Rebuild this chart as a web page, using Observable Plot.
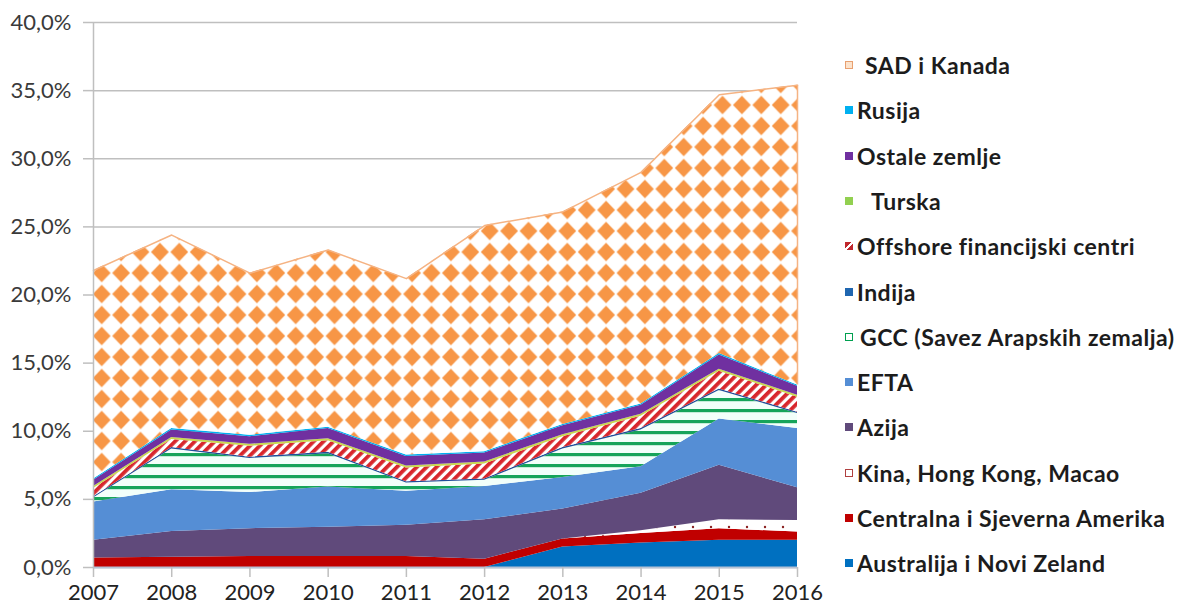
<!DOCTYPE html>
<html><head><meta charset="utf-8">
<script src="https://cdn.jsdelivr.net/npm/d3@7"></script>
<script src="https://cdn.jsdelivr.net/npm/@observablehq/plot@0.6"></script>
<style>
html,body{margin:0;padding:0;background:#fff;overflow:hidden;}
#wrap{position:relative;width:1182px;height:611px;}
#chart{position:absolute;left:0;top:0;}
#legend{position:absolute;left:0;top:0;width:1182px;height:611px;font-family:Lato,"Noto Sans",sans-serif;font-weight:700;font-size:23px;letter-spacing:0.5px;color:#1c1c1c;}
.item{position:absolute;left:845px;height:30px;display:flex;align-items:center;white-space:nowrap;}
.sw{width:8px;height:8px;box-sizing:border-box;flex:none;}
</style></head><body>
<div id="wrap"><div id="chart"></div><div id="legend"></div></div>
<script>
// ---- data (share of total, %) ----
const years = [2007, 2008, 2009, 2010, 2011, 2012, 2013, 2014, 2015, 2016];
const yTicks = [0, 5, 10, 15, 20, 25, 30, 35, 40];
// stacking order: bottom -> top
const seriesNames = [
  "Australija i Novi Zeland",
  "Centralna i Sjeverna Amerika",
  "Kina, Hong Kong, Macao",
  "Azija",
  "EFTA",
  "GCC (Savez Arapskih zemalja)",
  "Indija",
  "Offshore financijski centri",
  "Turska",
  "Ostale zemlje",
  "Rusija",
  "SAD i Kanada"
];
const australija = [0, 0, 0, 0, 0, 0, 1.5, 1.8, 2.0, 2.0];
const centralna  = [0.7, 0.75, 0.8, 0.8, 0.8, 0.6, 0.6, 0.7, 0.85, 0.6];
const kina       = [0, 0, 0, 0, 0, 0, 0, 0.2, 0.65, 0.85];
const azija      = [1.3, 1.9, 2.05, 2.15, 2.3, 2.9, 2.2, 2.75, 4.0, 2.4];
const efta       = [2.8, 3.05, 2.65, 2.95, 2.5, 2.45, 2.3, 1.95, 3.4, 4.35];
const gcc        = [0.3, 3.0, 2.5, 2.45, 0.6, 0.45, 2.1, 2.7, 2.1, 1.1];
const indija     = [0.1, 0.1, 0.1, 0.1, 0.1, 0.1, 0.1, 0.1, 0.1, 0.1];
const offshore   = [0.6, 0.6, 0.8, 0.85, 1.0, 1.1, 0.8, 0.9, 1.3, 1.1];
const turska     = [0.15, 0.15, 0.15, 0.15, 0.15, 0.15, 0.15, 0.15, 0.15, 0.15];
const ostale     = [0.45, 0.55, 0.55, 0.75, 0.7, 0.65, 0.65, 0.65, 1.05, 0.65];
const rusija     = [0.1, 0.1, 0.1, 0.1, 0.1, 0.1, 0.1, 0.1, 0.1, 0.1];
const sad        = [15.3, 14.2, 11.9, 13.0, 12.95, 16.6, 15.6, 17.0, 19.0, 22.0];
const seriesValues = [australija, centralna, kina, azija, efta, gcc, indija, offshore, turska, ostale, rusija, sad];

// ---- styles ----
const fills = [
  "#0070C0", "#C00000", "url(#pKina)", "#604A7B", "#558ED5", "url(#pGcc)",
  "#1F4E9A", "url(#pOff)", "#C8D850", "#7030A0", "#00B0F0", "url(#pDiamond)"
];
const swatches = {
  "SAD i Kanada": "background:#FCE3CC;border:1.5px solid #E8A070;",
  "Rusija": "background:#00B0F0;",
  "Ostale zemlje": "background:#7030A0;",
  "Turska": "background:#92D050;",
  "Offshore financijski centri": "background:linear-gradient(135deg,#C0282D 40%,#fff 40%,#fff 60%,#C0282D 60%);",
  "Indija": "background:#1F66B0;",
  "GCC (Savez Arapskih zemalja)": "background:#fff;border:1.5px solid #00A050;",
  "EFTA": "background:#558ED5;",
  "Azija": "background:#604A7B;",
  "Kina, Hong Kong, Macao": "background:#fff;border:1.5px solid #B04040;",
  "Centralna i Sjeverna Amerika": "background:#C00000;",
  "Australija i Novi Zeland": "background:#0070C0;"
};
const textGap = {"SAD i Kanada": 12, "Turska": 18, "GCC (Savez Arapskih zemalja)": 7};

const rows = [];
seriesNames.forEach((s, i) => years.forEach((yr, j) => rows.push({year: yr, series: s, value: seriesValues[i][j]})));
const totals = years.map((yr, j) => ({year: yr, total: d3.sum(seriesValues, a => a[j])}));
const last = years.length - 1;
const edge = [{year: years[last], y1: totals[last].total - sad[last], y2: totals[last].total}];
const fmt = d => d.toFixed(1).replace(".", ",") + "%";

const chart = Plot.plot({
  width: 820, height: 611,
  marginLeft: 93, marginRight: 23, marginTop: 22, marginBottom: 44,
  x: {type: "linear", domain: [years[0], years[last]], label: null},
  y: {domain: [0, 40], label: null},
  color: {domain: seriesNames, range: fills},
  style: {fontFamily: "Lato, 'Noto Sans', sans-serif", fontSize: "22px", background: "transparent", overflow: "visible"},
  marks: [
    Plot.gridY(yTicks, {stroke: "#BFBFBF", strokeOpacity: 1, strokeWidth: 1.5}),
    Plot.areaY(rows, {x: "year", y: "value", z: "series", fill: "series", order: seriesNames}),
    Plot.lineY(totals, {x: "year", y: "total", stroke: "#F5B383", strokeWidth: 1.5}),
    Plot.ruleX(edge, {x: "year", y1: "y1", y2: "y2", stroke: "#F5B383", strokeWidth: 1.5}),
    Plot.ruleX([years[0]], {stroke: "#BFBFBF", strokeWidth: 1.5}),
    Plot.ruleY([0], {stroke: "#B7C3D6", strokeWidth: 2}),
    Plot.axisY(yTicks, {tickSize: 10, tickPadding: 12, tickFormat: fmt, stroke: "#BFBFBF", strokeWidth: 1.5, fill: "#3A3A3A", fontSize: 22}),
    Plot.axisX(years, {tickSize: 10, tickPadding: 7, tickFormat: d => String(d), stroke: "#BFBFBF", strokeWidth: 1.5, fill: "#222", fontSize: 22})
  ]
});
document.getElementById("chart").appendChild(chart);

// ---- fill patterns ----
const defs = d3.select(chart).insert("defs", ":first-child");
const pd = defs.append("pattern").attr("id", "pDiamond").attr("patternUnits", "userSpaceOnUse")
  .attr("x", 92).attr("y", 10.5).attr("width", 19.4).attr("height", 21);
pd.append("rect").attr("width", 19.4).attr("height", 21).attr("fill", "#fff");
pd.append("path").attr("d", "M9.7,1.2 L18.6,10.5 L9.7,19.8 L0.8,10.5 Z").attr("fill", "#F79646");

const po = defs.append("pattern").attr("id", "pOff").attr("patternUnits", "userSpaceOnUse")
  .attr("width", 7).attr("height", 7).attr("patternTransform", "rotate(45)");
po.append("rect").attr("width", 7).attr("height", 7).attr("fill", "#fff");
po.append("rect").attr("width", 3.8).attr("height", 7).attr("fill", "#D8262C");

const pg = defs.append("pattern").attr("id", "pGcc").attr("patternUnits", "userSpaceOnUse")
  .attr("x", 0).attr("y", 2).attr("width", 10).attr("height", 11);
pg.append("rect").attr("width", 10).attr("height", 11).attr("fill", "#F2FFFA");
pg.append("rect").attr("width", 10).attr("height", 3.2).attr("fill", "#16A45A");

const pk = defs.append("pattern").attr("id", "pKina").attr("patternUnits", "userSpaceOnUse")
  .attr("width", 18).attr("height", 9);
pk.append("rect").attr("width", 18).attr("height", 9).attr("fill", "#fff");
pk.append("circle").attr("cx", 9).attr("cy", 5).attr("r", 1.2).attr("fill", "#8A2020");

// ---- legend (top -> bottom = reversed stack order) ----
const legend = d3.select("#legend");
seriesNames.slice().reverse().forEach((s, i) => {
  const it = legend.append("div").attr("class", "item").style("top", (50 + i * 45.3) + "px");
  it.append("div").attr("class", "sw").attr("style", swatches[s]);
  it.append("span").style("margin-left", (textGap[s] || 4) + "px").text(s);
});
</script>
</body></html>
